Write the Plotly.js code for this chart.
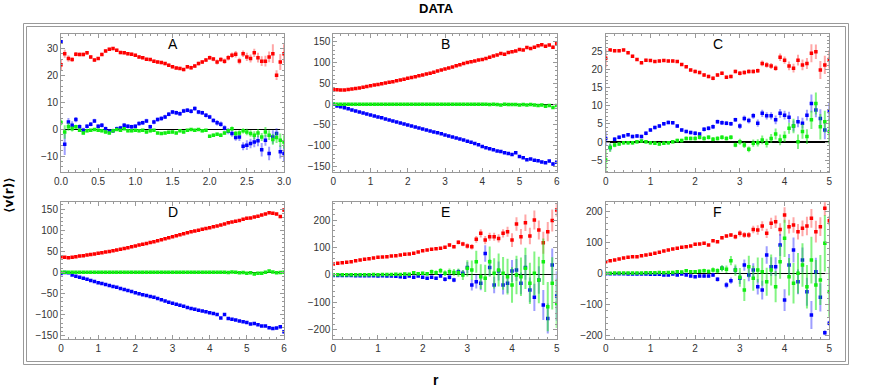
<!DOCTYPE html>
<html><head><meta charset="utf-8">
<script src="https://cdn.plot.ly/plotly-3.0.1.min.js"></script>
<style>html,body{margin:0;padding:0;background:#fff}#chart{width:872px;height:390px}</style>
</head><body><div id="chart"></div>
<script>
// ---------- data ----------
const panelNames = ["A","B","C","D","E","F"];

const xA = [0,0.05,0.1,0.15,0.2,0.25,0.3,0.35,0.4,0.45,0.5,0.55,0.6,0.65,0.7,0.75,0.8,0.85,0.9,0.95,1.0,1.05,1.1,1.15,1.2,1.25,1.3,1.35,1.4,1.45,1.5,1.55,1.6,1.65,1.7,1.75,1.8,1.85,1.9,1.95,2.0,2.05,2.1,2.15,2.2,2.25,2.3,2.35,2.4,2.45,2.5,2.55,2.6,2.65,2.7,2.75,2.8,2.85,2.9,2.95,3.0];
const x6 = [0,0.1,0.2,0.3,0.4,0.5,0.6,0.7,0.8,0.9,1.0,1.1,1.2,1.3,1.4,1.5,1.6,1.7,1.8,1.9,2.0,2.1,2.2,2.3,2.4,2.5,2.6,2.7,2.8,2.9,3.0,3.1,3.2,3.3,3.4,3.5,3.6,3.7,3.8,3.9,4.0,4.1,4.2,4.3,4.4,4.5,4.6,4.7,4.8,4.9,5.0,5.1,5.2,5.3,5.4,5.5,5.6,5.7,5.8,5.9,6.0];
const x5 = [0,0.1,0.2,0.3,0.4,0.5,0.6,0.7,0.8,0.9,1.0,1.1,1.2,1.3,1.4,1.5,1.6,1.7,1.8,1.9,2.0,2.1,2.2,2.3,2.4,2.5,2.6,2.7,2.8,2.9,3.0,3.1,3.2,3.3,3.4,3.5,3.6,3.7,3.8,3.9,4.0,4.1,4.2,4.3,4.4,4.5,4.6,4.7,4.8,4.9,5.0];

// Panel A
const aRed = [24.0,28.1,26.3,25.9,27.9,27.8,27.8,28.4,26.9,25.7, 26.3,27.8,29.1,29.7,30.0,29.4,28.5,28.4,28.1,27.9, 27.5,26.9,26.6,26.0,25.9,25.3,25.0,24.8,24.4,23.8, 23.2,22.8,22.6,22.2,23.2,22.9,23.5,24.4,25.0,25.7, 26.6,26.1,25.0,25.9,25.3,26.6,27.5,27.9,25.4,28.1, 26.9,26.3,28.4,26.6,25.3,25.3,26.9,28.1,20.1,25.0, 28.1];
const aRedErr = [2.0,1.5,1.2,0.8,0.8,0.7,0.7,0.7,0.7,0.7, 0.6,0.6,0.6,0.6,0.6,0.6,0.6,0.6,0.6,0.6, 0.6,0.6,0.6,0.6,0.6,0.6,0.6,0.6,0.6,0.6, 0.6,0.6,0.6,0.6,0.7,0.7,0.7,0.7,0.7,0.7, 0.8,0.8,0.9,0.9,1.0,1.0,1.0,1.2,1.2,1.2, 1.5,1.5,1.5,1.8,1.8,2.0,2.0,3.5,1.8,3.0, 3.5];
const aBlue = [32.5,-5.6,2.7,1.5,3.6,0.9,-0.4,1.1,1.9,3.1, 1.1,1.5,0.2,-0.7,-0.6,0.2,0.5,1.5,1.1,0.9, 1.1,2.1,2.4,3.1,0.9,2.7,3.6,4.0,4.6,5.6, 6.4,6.1,5.8,6.8,7.1,6.7,7.7,6.4,6.1,5.2, 4.6,3.3,2.4,1.9,0.5,-0.7,-1.6,-3.1,-2.9,-6.3, -5.9,-5.3,-4.7,-4.3,-7.6,-4.1,-9.0,-2.9,-1.6,-8.4, -9.0];
const aBlueErr = [0.5,4.0,1.5,1.5,1.0,1.0,1.0,0.8,0.8,0.8, 0.8,0.8,0.8,0.8,0.8,0.8,0.8,0.8,0.8,0.8, 0.8,0.8,0.8,0.8,0.8,0.8,0.8,0.8,0.8,0.8, 0.8,0.8,0.8,0.8,0.8,0.8,0.8,0.8,0.8,0.8, 0.8,0.8,1.0,1.0,1.0,1.2,1.2,1.2,1.5,1.5, 1.8,1.8,2.0,2.0,2.5,2.0,2.5,2.5,2.0,2.5, 3.0];
const aGreen = [2.5,-1.0,0.9,0.2,0.9,-0.4,-1.4,-0.6,-0.4,-0.1, -0.4,-0.6,-1.0,-1.4,-0.6,-0.1,-0.4,0.2,-0.6,-0.6, -0.4,-0.6,-0.4,-1.0,-0.6,-0.4,-1.4,-1.6,-1.4,-1.1, -1.0,-1.4,-0.6,-1.0,-0.4,-0.1,-0.4,-0.1,-0.6,-0.4, -2.6,-2.2,-1.9,-2.2,-1.4,-0.6,0.2,-1.6,-1.4,-0.6, -1.0,-1.6,-2.2,-1.4,-2.9,-1.0,-2.2,-3.8,-3.1,-4.1, -4.7];
const aGreenErr = [1.0,2.5,1.5,1.0,0.8,0.6,0.5,0.5,0.5,0.5, 0.5,0.5,0.5,0.5,0.5,0.5,0.5,0.5,0.5,0.5, 0.5,0.5,0.5,0.5,0.5,0.5,0.5,0.5,0.5,0.5, 0.5,0.5,0.5,0.5,0.5,0.5,0.5,0.5,0.5,0.5, 0.6,0.6,0.6,0.7,0.7,0.8,0.8,1.0,1.0,1.0, 1.2,1.2,1.5,1.5,1.5,1.8,1.8,2.0,2.0,2.5, 2.5];

// Panel B
const bRed = [35.6,34.5,34.0,34.0,35.0,36.4,37.5,39.0,40.5,42.5, 44.4,46.0,47.5,49.0,50.8,52.4,54.0,56.0,58.0,60.0, 62.0,64.0,66.0,68.0,70.0,72.4,74.5,77.0,79.5,82.0, 84.4,87.0,89.5,92.5,95.0,98.0,100.0,102.0,104.0,106.0, 107.6,110.0,113.0,116.0,118.0,122.0,120.0,124.0,126.0,128.0, 131.6,130.0,136.0,134.0,137.0,140.4,143.0,139.0,142.0,137.0, 146.0];
const bRedErr = [1.5,1,1,1,1,1,1,1,1,1, 1,1,1,1,1,1,1,1,1,1, 1,1,1,1,1,1,1,1,1,1, 1.2,1.2,1.2,1.2,1.2,1.2,1.2,1.2,1.2,1.2, 1.5,1.5,1.5,1.5,1.5,1.5,1.5,1.5,1.5,1.5, 2,2,2,2,2,2.5,2.5,3,3,4, 4];
const bBlue = [0,-4.4,-6,-8.5,-11,-14,-16.5,-19,-21.5,-24, -26,-28.5,-31,-33,-35.5,-38,-40.5,-43,-45.5,-47.5, -50,-52.5,-55,-57.5,-60,-62,-64.5,-67,-69,-71.5, -74,-76.5,-79,-81.5,-84,-86,-89,-92,-95,-98, -102,-105,-107.5,-110,-113,-114,-117,-119,-121,-117, -126,-129,-134,-132,-135,-136,-139,-141,-137,-144, -140];
const bBlueErr = [1.5,1,1,1,1,1,1,1,1,1, 1,1,1,1,1,1,1,1,1,1, 1,1,1,1,1,1,1,1,1,1, 1.2,1.2,1.2,1.2,1.2,1.2,1.2,1.2,1.2,1.2, 1.5,1.5,1.5,1.5,1.5,1.5,1.5,1.5,1.5,1.5, 2,2,2,2,2,2.5,2.5,3,3,4, 4];
const bGreen = [0.5,0,0,0,0,0,0,0,0,0, 0,0,0,0,0,0,0,0,0,0, 0,0,0,0,0,0,0,0,0,0, 0,0,0,0,0,0,0,0,0,0, 0,0,-1,0,-1,-2,0,-1,-1,-1, -2,-1,-2,-1,-2,-3,-2,-5,-3,-8, -3];
const bGreenErr = [0.5,0.5,0.5,0.5,0.5,0.5,0.5,0.5,0.5,0.5, 0.5,0.5,0.5,0.5,0.5,0.5,0.5,0.5,0.5,0.5, 0.7,0.7,0.7,0.7,0.7,0.7,0.7,0.7,0.7,0.7, 0.7,0.7,0.7,0.7,0.7,0.7,0.7,0.7,0.7,0.7, 1,1,1,1,1,1,1,1,1,1, 1.5,1.5,2,2,2,2.5,2.5,3,3,3, 3];

// Panel C
const cRed = [23.0,25.3,25.1,25.1,25.3,24.5,23.6,22.7,21.8,22.5, 22.4,22.1,22.3,22.4,22.3,22.3,22.1,21.3,20.7,19.8, 19.4,19.1,18.4,18.0,17.5,18.4,18.9,17.8,18.0,19.4, 18.9,19.1,19.4,19.4,19.6,21.6,21.2,20.9,20.3,23.3, 22.5,20.9,20.3,22.5,21.2,21.6,24.4,24.8,19.8,21.2, 22.7];
const cRedErr = [2.5,0.4,0.4,0.4,0.4,0.4,0.4,0.4,0.4,0.4, 0.4,0.4,0.4,0.4,0.4,0.4,0.4,0.4,0.4,0.4, 0.5,0.5,0.5,0.5,0.5,0.5,0.5,0.5,0.5,0.5, 0.6,0.6,0.6,0.6,0.6,0.8,0.8,0.8,0.8,1.0, 1.0,1.2,1.2,1.5,1.5,1.5,2.5,2.0,2.5,2.5, 2.5];
const cBlue = [1.0,-1.5,0.8,1.3,1.7,2.0,1.5,1.7,1.5,2.4, 3.3,4.0,4.4,5.0,5.4,5.3,4.4,3.3,2.9,2.6, 2.4,2.2,3.5,3.8,4.2,5.6,5.3,5.2,5.0,6.1, 4.4,6.5,5.9,7.2,5.2,7.9,7.2,7.2,6.1,7.9, 7.4,6.8,4.4,5.6,5.2,7.4,10.6,8.8,6.5,3.3, 8.4];
const cBlueErr = [2.0,1.0,0.6,0.5,0.5,0.5,0.5,0.5,0.5,0.5, 0.5,0.5,0.5,0.5,0.5,0.5,0.5,0.5,0.5,0.5, 0.6,0.6,0.6,0.6,0.6,0.6,0.6,0.6,0.6,0.6, 0.8,0.8,0.8,0.8,1.0,1.0,1.0,1.0,1.2,1.2, 1.2,1.5,1.5,1.5,1.5,1.5,2.5,2.0,2.5,2.5, 2.5];
const cGreen = [-4.9,-1.5,-0.8,-0.5,-0.2,-0.2,-0.2,0.1,0.3,0.1, -0.2,-0.3,-0.5,-0.3,-0.2,0.1,0.4,0.4,1.0,1.0, 1.0,1.3,1.0,1.3,0.8,1.0,1.3,1.0,1.3,-0.8, 0.1,-0.8,-2.0,-0.3,-0.2,0.6,-0.3,1.0,2.2,0.6, 1.5,3.8,4.4,0.1,2.9,1.5,6.1,10.6,4.2,5.6, 2.9];
const cGreenErr = [3.0,1.2,0.6,0.5,0.5,0.5,0.5,0.5,0.5,0.5, 0.5,0.5,0.5,0.5,0.5,0.5,0.5,0.5,0.5,0.5, 0.6,0.6,0.6,0.6,0.6,0.6,0.6,0.6,0.6,0.6, 0.8,0.8,0.8,1.0,1.0,1.2,1.2,1.2,1.5,1.5, 1.5,1.5,2.0,2.0,2.0,2.0,2.5,3.0,3.5,3.0, 3.5];

// Panel D
const dRed = [37,35.5,34.7,36,37,38.7,39.5,41,42.5,43.5, 45,46.5,48,49.5,51,53,54.5,56.5,58.5,60.5, 62.4,64.5,66.5,68.5,70.5,72.6,75,77,79.5,82, 84.5,86.5,89,91.5,94,96.3,98,100,102,104, 105.8,108,110,112,114.5,117.6,119,121,123,125.5, 127.9,129,131,133,136,138,141,140,138,132, 147.6];
const dRedErr = [1.5,1,1,1,1,1,1,1,1,1, 1,1,1,1,1,1,1,1,1,1, 1,1,1,1,1,1,1,1,1,1, 1.2,1.2,1.2,1.2,1.2,1.2,1.2,1.2,1.2,1.2, 1.5,1.5,1.5,1.5,1.5,1.5,1.5,1.5,1.5,1.5, 2,2,2,2,2,2.5,2.5,3,3,4, 4];
const dBlue = [-2.4,-0.5,-0.8,-6,-9,-11.8,-14,-16.5,-19,-21.5, -24.5,-26.5,-29,-31,-33.5,-35.5,-38,-40.5,-43,-45.5, -48.2,-50.5,-53,-55,-57,-59.2,-62,-65,-68,-70.5, -73.4,-75.5,-78,-80.5,-83,-85.3,-87.5,-89.5,-91.5,-93.5, -95.5,-97.5,-100,-108,-100,-109,-111,-113,-115,-117, -119,-122,-121,-124,-127,-127,-131,-133,-132,-128.7, -140.5];
const dBlueErr = [1.5,1,1,1,1,1,1,1,1,1, 1,1,1,1,1,1,1,1,1,1, 1,1,1,1,1,1,1,1,1,1, 1.2,1.2,1.2,1.2,1.2,1.2,1.2,1.2,1.2,1.2, 1.5,1.5,1.5,1.5,1.5,1.5,1.5,1.5,1.5,1.5, 2,2,2,2,2,2.5,2.5,3,3,4, 4];
const dGreen = [0.5,0,0,0,0,0,0,0,0,0, 0,0,0,0,0,0,0,0,0,0, 0,0,0,0,0,0,0,0,0,0, 0,0,0,0,0,0,0,0,0,0, 0,0,0,0.5,0,-0.5,1,0,-1,-0.5, -2,-1,-4,-2,-2,0,3,1,-1,-0.5, 0];
const dGreenErr = [0.5,0.5,0.5,0.5,0.5,0.5,0.5,0.5,0.5,0.5, 0.5,0.5,0.5,0.5,0.5,0.5,0.5,0.5,0.5,0.5, 0.6,0.6,0.6,0.6,0.6,0.6,0.6,0.6,0.6,0.6, 0.7,0.7,0.7,0.7,0.7,0.7,0.7,0.7,0.7,0.7, 1,1,1,1,1,1,1,1,1,1, 1.5,1.5,2,2,2,2,2.5,2.5,2.5,3, 3];

// Panel E
const eRed = [39.5,42,44.4,45.6,48,51.7,54,56.5,59,61.4, 63.8,65,66.3,68.7,70,72.3,74.8,76,78.4,83.3, 88,90.6,93,95.4,96.7,100.3,108.8,102.7,118.5,112.5, 105,102.7,129.5,151.4,127,139,139,133,151.4,157.4, 127,185.4,139,190,141.6,200,163.5,117.3,157.4,198, 236.5];
const eRedErr = [2,2,2,2,2,2,2,2,2,2, 2,2,2,2,2,2.5,2.5,2.5,3,3, 3,3,4,4,4,5,6,6,8,8, 10,10,12,15,15,15,15,15,15,18, 25,25,28,30,30,35,35,40,35,40, 25];
const eBlue = [-2,-2,-2,-2.5,-2.5,-3,-3,-3,-3.5,-3, -4,-3.5,-4,-4,-5,-6.7,-9,-4,-9,-4, -9,-12.8,-9,-12.8,-4,-16.4,-9,-18.8,11.5,5.5, 27,-37,-25,-31,78,27,-37,14,-37,-31, 14,17.6,-31,27,-55,-82,-18.8,-110,-159,36, -77];
const eBlueErr = [1,1,1,1,1,1,1,1,1,1, 1.5,1.5,1.5,2,2,3,3,3,4,4, 5,5,5,6,6,8,8,8,10,12, 20,20,25,25,30,30,30,35,35,35, 40,40,40,45,45,50,50,55,55,60, 90];
const eGreen = [0,0.5,0,0.5,0,0.5,0,0.5,0.5,1, 0.5,1,1,1.5,2,1.5,3,2,8,4, 5.5,4,11.5,8,15,6,11.5,9,8,-0.6, 23.7,17.6,48,-6.7,-12.8,48,5.5,17.6,5.5,-6.7, -37,-0.6,-6.7,23.7,-31,5.5,-18.8,48,-116,-31, -104];
const eGreenErr = [1,1,1,1,1,1,1,1,1.5,1.5, 2,2,2,2.5,2.5,3,3,4,5,5, 6,6,8,8,10,10,12,12,15,18, 30,35,40,45,50,55,55,60,60,65, 65,70,70,75,75,80,85,85,90,95, 90];

// Panel F
const fRed = [37.4,40.6,42.8,46,49.2,51.3,53.5,53.5,56.7,58.8, 61,64.2,67.4,71.7,74.9,78,80.2,83.4,85.6,87.7, 93,94,96.3,91,104.8,101.6,114.4,119.8,123,117.6, 128.3,123,123,141,139,151.9,128.3,160.4,165.8,141, 187,149.7,155,133.7,144.4,151.9,176.5,133.7,149.7,208.6, 169];
const fRedErr = [1.5,1.5,1.5,1.5,1.5,1.5,1.5,1.5,1.5,1.5, 1.5,1.5,2,2,2,2,2,2,2.5,2.5, 3,3,3,3,4,4,5,5,6,8, 10,10,10,12,15,15,15,18,20,20, 25,22,25,25,25,30,30,35,30,25, 15];
const fBlue = [-1,-1,-1.5,-1.5,-1.5,-2,-2,-2,-2,-2, -2.5,-2.5,-3,-5.3,-5.3,-2,-5.3,-2,-5.3,-8.6, -10.7,-8.6,-8.6,-8.6,-5.3,-19.3,16,-37.4,-23.5,10.7, -16,26.7,-5.3,10.7,-42.8,-53.5,58.8,21.4,21.4,91, -85.6,26.7,74.9,-26.7,42.8,-58.8,-133.7,5.3,-77,-190.4, -160.4];
const fBlueErr = [1,1,1,1,1,1,1,1,1,1, 1.5,1.5,2,2,2,2,3,3,3,4, 4,4,5,5,5,8,8,10,10,12, 18,18,20,22,25,30,28,30,30,35, 35,35,40,40,40,45,45,45,45,8, 8];
const fGreen = [0.5,0.5,1,1,1,1.5,1,1.5,1.5,2, 2,2,2.5,2,3,3,5.3,4,8.6,5, 5.3,7,8.6,6,10.7,8,16,12.8,40.6,10.7, -12.8,-53.5,21.4,-16,10.7,5.3,-26.7,10.7,-42.8,37.4, 112.3,-10.7,-32,0,26.7,-42.8,42.8,-37.4,-21.4,96.3, -58.8];
const fGreenErr = [1,1,1,1,1,1,1,1,1,1, 1.5,1.5,2,2,2,3,3,4,4,5, 5,6,6,6,8,8,10,12,15,18, 30,35,35,40,40,45,45,50,50,55, 60,60,65,65,70,70,75,80,80,90, 80];

// tick settings per panel
const xRanges = [[0,3],[0,6],[0,5],[0,6],[0,5],[0,5]];
const xDticks = [0.5,1,1,1,1,1];
const xMinor = [0.1,0.2,0.2,0.2,0.2,0.2];
const yRanges = [[-16,35.3],[-164,168],[-8.3,29.6],[-158.5,165.9],[-235,264.6],[-211.5,227.9]];
const yDticks = [10,50,5,50,100,100];
const yMinor = [2,10,1,10,20,20];

// ---------- build ----------
const W = 872, H = 390;
const colX = [[61,284],[333.3,556.7],[605.7,829.3]];
const rowY = [[34.3,172.3],[202.3,339.3]];
const series = [
  [xA,[aRed,aRedErr],[aBlue,aBlueErr],[aGreen,aGreenErr]],
  [x6,[bRed,bRedErr],[bBlue,bBlueErr],[bGreen,bGreenErr]],
  [x5,[cRed,cRedErr],[cBlue,cBlueErr],[cGreen,cGreenErr]],
  [x6,[dRed,dRedErr],[dBlue,dBlueErr],[dGreen,dGreenErr]],
  [x5,[eRed,eRedErr],[eBlue,eBlueErr],[eGreen,eGreenErr]],
  [x5,[fRed,fRedErr],[fBlue,fBlueErr],[fGreen,fGreenErr]]
];
const cols = [["#ff0000","rgba(255,60,60,0.45)"],["#0000ff","rgba(40,40,255,0.45)"],["#11ee11","rgba(30,235,30,0.55)"]];
const font = "Liberation Sans, Arial, sans-serif";

const traces = [];
const layout = {
  width: W, height: H, margin: {l:0,r:0,t:0,b:0},
  paper_bgcolor: "#fff", plot_bgcolor: "#fff", showlegend: false,
  font: {family: font, size: 10, color: "#333"},
  annotations: [], shapes: []
};

for (let p = 0; p < 6; p++) {
  const n = p + 1;
  const xa = "x" + (n === 1 ? "" : n), ya = "y" + (n === 1 ? "" : n);
  const xk = "xaxis" + (n === 1 ? "" : n), yk = "yaxis" + (n === 1 ? "" : n);
  const cx = colX[p % 3], ry = rowY[Math.floor(p / 3)];
  const frame = {
    showline: true, linecolor: "#999", linewidth: 1, mirror: "allticks",
    ticks: "inside", ticklen: 4, tickcolor: "#999", tickwidth: 1,
    showgrid: false, tickfont: {family: font, size: 10, color: "#333"},
    minor: {ticks: "inside", ticklen: 2, tickcolor: "#999", showgrid: false}
  };
  layout[xk] = Object.assign({}, frame, {
    domain: [cx[0]/W, cx[1]/W], range: xRanges[p], anchor: ya,
    dtick: xDticks[p], tick0: 0, zeroline: false,
    tickformat: p === 0 ? ".1f" : "d",
    minor: Object.assign({}, frame.minor, {dtick: xMinor[p], tick0: 0})
  });
  layout[yk] = Object.assign({}, frame, {
    domain: [1 - ry[1]/H, 1 - ry[0]/H], range: yRanges[p], anchor: xa,
    dtick: yDticks[p], tick0: 0, zeroline: true, zerolinecolor: "#000", zerolinewidth: 1.2,
    minor: Object.assign({}, frame.minor, {dtick: yMinor[p], tick0: 0})
  });
  const xs = series[p][0];
  for (let s = 0; s < 3; s++) {
    const [vals, errs] = series[p][s + 1];
    traces.push({
      type: "scatter", mode: "markers", x: xs, y: vals, xaxis: xa, yaxis: ya,
      marker: {symbol: "square", size: 3.5, color: cols[s][0]},
      error_y: {type: "data", array: errs, visible: true, color: cols[s][1], thickness: 2, width: 0},
      hoverinfo: "skip"
    });
  }
  layout.annotations.push({
    text: panelNames[p], xref: "paper", yref: "paper",
    x: ((cx[0] + cx[1]) / 2) / W, y: 1 - (ry[0] + 10) / H,
    xanchor: "center", yanchor: "middle", showarrow: false,
    font: {family: font, size: 14, color: "#000"}
  });
}

layout.annotations.push(
  {text: "<b>DATA</b>", xref: "paper", yref: "paper", x: 436/W, y: 1 - 8/H, xanchor: "center", yanchor: "middle", showarrow: false, font: {family: font, size: 13, color: "#000"}},
  {text: "<b>r</b>", xref: "paper", yref: "paper", x: 436/W, y: 1 - 380/H, xanchor: "center", yanchor: "middle", showarrow: false, font: {family: font, size: 14, color: "#000"}},
  {text: "<b>\u27E8v(r)\u27E9</b>", xref: "paper", yref: "paper", x: 9/W, y: 1 - 195/H, xanchor: "center", yanchor: "middle", textangle: -90, showarrow: false, font: {family: "DejaVu Sans, " + font, size: 12, color: "#000"}}
);

layout.shapes.push(
  {type: "rect", xref: "paper", yref: "paper", x0: 23.5/W, x1: 848.5/W, y0: 1 - 364.5/H, y1: 1 - 23.5/H, line: {color: "#999", width: 1}},
  {type: "rect", xref: "paper", yref: "paper", x0: 26.5/W, x1: 845.5/W, y0: 1 - 361.5/H, y1: 1 - 26.5/H, line: {color: "#999", width: 1}}
);

Plotly.newPlot("chart", traces, layout, {staticPlot: true, displayModeBar: false});
</script>
</body></html>
